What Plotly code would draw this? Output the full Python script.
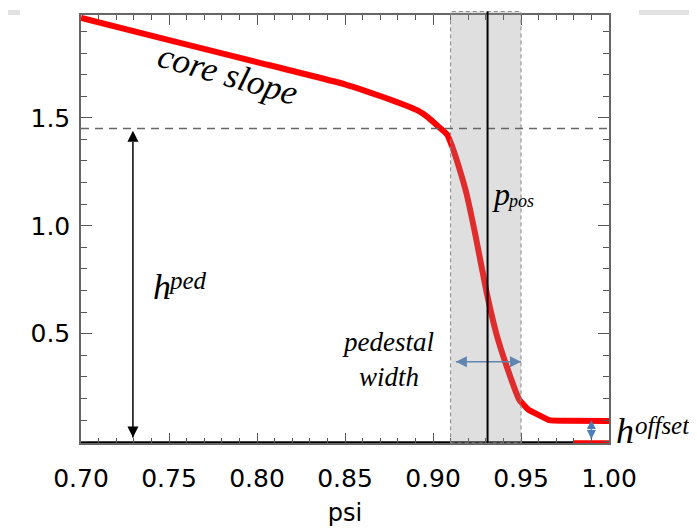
import plotly.graph_objects as go

# ---- data ----
psi = [0.700, 0.750, 0.800, 0.850, 0.872, 0.885, 0.891, 0.897, 0.903, 0.908,
       0.911, 0.915, 0.919, 0.924, 0.9305, 0.936, 0.942, 0.949, 0.954, 0.959,
       0.966, 0.975, 1.000]
profile = [1.963, 1.860, 1.758, 1.655, 1.595, 1.556, 1.535, 1.503, 1.460, 1.423,
           1.365, 1.265, 1.150, 0.961, 0.690, 0.500, 0.346, 0.195, 0.150, 0.128,
           0.100, 0.097, 0.096]
offset_psi = [0.98, 1.00]
offset_val = [0.0, 0.0]

ped_height = 1.45        # dashed line / h_ped
ped_left, ped_right = 0.91, 0.95
p_pos = 0.931
ped_arrow_x = 0.7295
offset_arrow_x = 0.990
offset_level = 0.10
width_arrow_y = 0.37

x_ticks = [0.70, 0.75, 0.80, 0.85, 0.90, 0.95, 1.00]
y_ticks = [0.5, 1.0, 1.5]

SERIF = "Liberation Serif"
SANS = "DejaVu Sans"
BLUE = "#4a7ebb"

fig = go.Figure()
fig.add_trace(go.Scatter(x=psi, y=profile, mode="lines",
                         line=dict(color="#ff0000", width=6, shape="spline", smoothing=0.4),
                         showlegend=False, hoverinfo="skip"))
fig.add_trace(go.Scatter(x=offset_psi, y=offset_val, mode="lines",
                         line=dict(color="#ff0000", width=3),
                         showlegend=False, hoverinfo="skip"))

# double arrows drawn as line + arrow markers
fig.add_trace(go.Scatter(x=[ped_arrow_x, ped_arrow_x], y=[0.02, ped_height - 0.01],
                         mode="lines+markers", line=dict(color="black", width=1.5),
                         marker=dict(symbol=["arrow-down", "arrow-up"], size=11, color="black",
                                     line=dict(width=0)),
                         showlegend=False, hoverinfo="skip"))
fig.add_trace(go.Scatter(x=[ped_left + 0.003, ped_right], y=[width_arrow_y, width_arrow_y],
                         mode="lines+markers", line=dict(color=BLUE, width=1.5),
                         marker=dict(symbol=["arrow-left", "arrow-right"], size=11, color=BLUE,
                                     line=dict(width=0)),
                         showlegend=False, hoverinfo="skip"))
fig.add_trace(go.Scatter(x=[offset_arrow_x, offset_arrow_x], y=[0.012, offset_level],
                         mode="lines+markers", line=dict(color=BLUE, width=1.5),
                         marker=dict(symbol=["arrow-down", "arrow-up"], size=9, color=BLUE,
                                     line=dict(width=0)),
                         showlegend=False, hoverinfo="skip"))

shapes = [
    # thick bottom axis line
    dict(type="line", xref="paper", yref="paper", x0=0, x1=1, y0=0, y1=0,
         line=dict(color="black", width=3.5), layer="below"),
    # pedestal width band
    dict(type="rect", xref="x", yref="paper", x0=ped_left, x1=ped_right, y0=0, y1=1.008,
         fillcolor="rgba(150,150,150,0.3)", line=dict(color="#888", width=1, dash="4px,3px"),
         layer="above"),
    # pedestal height dashed line
    dict(type="line", xref="paper", yref="y", x0=0, x1=1, y0=ped_height, y1=ped_height,
         line=dict(color="#666", width=1.5, dash="8px,6px"), layer="above"),
    # p_pos line
    dict(type="line", xref="x", yref="paper", x0=p_pos, x1=p_pos, y0=0, y1=1.008,
         line=dict(color="black", width=2), layer="above"),
    # screenshot corner boxes
    dict(type="rect", xref="paper", yref="paper", x0=-0.1383, x1=-0.1155, y0=1.0, y1=1.0116,
         fillcolor="#e2e2e2", line=dict(width=0), layer="above"),
    dict(type="rect", xref="paper", yref="paper", x0=1.0568, x1=1.1667, y0=1.0, y1=1.0116,
         fillcolor="#e2e2e2", line=dict(width=0), layer="above"),
]


def label(text, x, y, size, xref="x", yref="y", xanchor="left", angle=0):
    return dict(x=x, y=y, xref=xref, yref=yref, text=f"<i>{text}</i>", showarrow=False,
                xanchor=xanchor, yanchor="middle", textangle=angle,
                font=dict(family=SERIF, size=size, color="black"))


annotations = [
    label("core slope", 0.7835, 1.70, 35, xanchor="center", angle=16),
    # h^ped
    label("h", 0.7398, 0.718, 36),
    label("ped", 0.7483, 0.746, 25),
    # p_pos
    label("p", 0.9325, 1.147, 32),
    label("pos", 0.9410, 1.114, 18),
    # pedestal width
    label("pedestal<br>width", 0.8744, 0.38, 27, xanchor="center"),
    # h^offset (outside the axes, so x in paper units)
    label("h", 1.0095, 0.050, 36, xref="paper"),
    label("offset", 1.0455, 0.077, 25, xref="paper"),
]

fig.update_layout(
    width=689, height=523,
    margin=dict(l=73, r=88, t=5, b=88),
    paper_bgcolor="white", plot_bgcolor="white",
    shapes=shapes, annotations=annotations,
    xaxis=dict(range=[0.70, 1.00], tickmode="array", tickvals=x_ticks,
               ticktext=[f"{v:.2f}" for v in x_ticks],
               ticks="inside", ticklen=10, tickwidth=1.2, tickcolor="#555",
               minor=dict(tick0=0.70, dtick=0.01, ticks="inside", ticklen=5, tickcolor="#555", tickwidth=1.2),
               showline=True, linecolor="#666", linewidth=1.5, mirror="ticks",
               showgrid=False, zeroline=False, ticklabelstandoff=12,
               tickfont=dict(family=SANS, size=25, color="black"),
               title=dict(text="psi", standoff=12, font=dict(family=SANS, size=24, color="black"))),
    yaxis=dict(range=[-0.006, 1.976], tickmode="array", tickvals=y_ticks,
               ticktext=[f"{v:.1f}" for v in y_ticks],
               ticks="inside", ticklen=11, tickwidth=1.2, tickcolor="#555",
               minor=dict(tick0=0, dtick=0.1, ticks="inside", ticklen=6, tickcolor="#555", tickwidth=1.2),
               showline=True, linecolor="#666", linewidth=1.5, mirror="ticks",
               showgrid=False, zeroline=False, ticklabelstandoff=4,
               tickfont=dict(family=SANS, size=25, color="black")),
)

fig.write_html("out.html")
